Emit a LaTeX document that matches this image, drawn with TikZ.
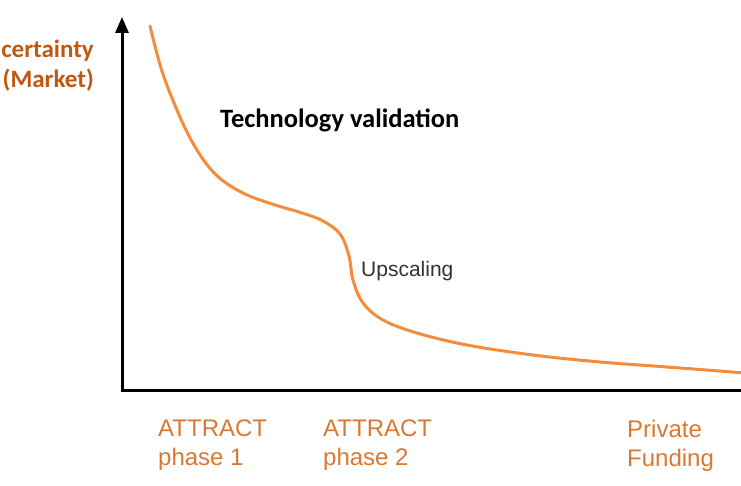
\documentclass[tikz,border=0pt]{standalone}
\usepackage{fontspec}
\setmainfont{Liberation Sans}
\newfontfamily\calibri{Carlito}
\usetikzlibrary{arrows.meta}
\usetikzlibrary{positioning}

\definecolor{curveorange}{RGB}{245,140,60}
\definecolor{axislabel}{RGB}{192,88,16}
\definecolor{stagelabel}{RGB}{218,120,50}
\definecolor{darkgray}{RGB}{50,50,50}

\begin{document}
\begin{tikzpicture}[x=1pt, y=-1pt,
				axis/.style={draw, line width=3pt},
				stage/.style={anchor=north west, inner sep=0pt, align=left, text=stagelabel, font=\fontsize{24}{29}\selectfont},
				phase/.style={anchor=west, inner sep=0pt}]
				\useasboundingbox (0,0) rectangle (741,486);
				\clip (0,0) rectangle (741,486);
				
				% axes
				\coordinate (origin) at (122,390);
				\coordinate (ytop) at (122,17);
				\coordinate (xend) at (745,390);
				\draw [axis, -{Triangle[width=13pt, length=16pt]}] (origin) -- (ytop);
				\draw [axis] ([xshift=-1.5pt]origin) -- (xend);
				
				% the uncertainty curve
				\draw [curveorange, line width=3pt, line cap=round] plot[smooth, tension=0.6] coordinates {
					(150,26) (161,68) (174,103) (189,136) (205,162) (222,180) (245,194) (272,204) (302,213) (323,221) (340,234) (349,256) (353,280) (363,303) (383,320) (417,333) (467,345) (533,355) (600,362) (667,367) (745,373)};
				
				\node[anchor=east, align=right, inner sep=0pt, text=axislabel, font=\calibri\bfseries\fontsize{25}{30}\selectfont](uncert) at (94,66) {Uncertainty\\(Market)};
				
				\node[phase, font=\calibri\bfseries\fontsize{26.5}{30}\selectfont](techval) at (220,120) {Technology validation};
				\node[phase, text=darkgray, font=\fontsize{21}{25}\selectfont](upscale) at (361,271) {Upscaling};
				
				\node[stage](attract1) at (158,420) {ATTRACT\\phase 1};
				\node[stage](attract2) at (323,420) {ATTRACT\\phase 2};
				\node[stage](private) at (627,420) {Private\\Funding};
			\end{tikzpicture}
\end{document}
